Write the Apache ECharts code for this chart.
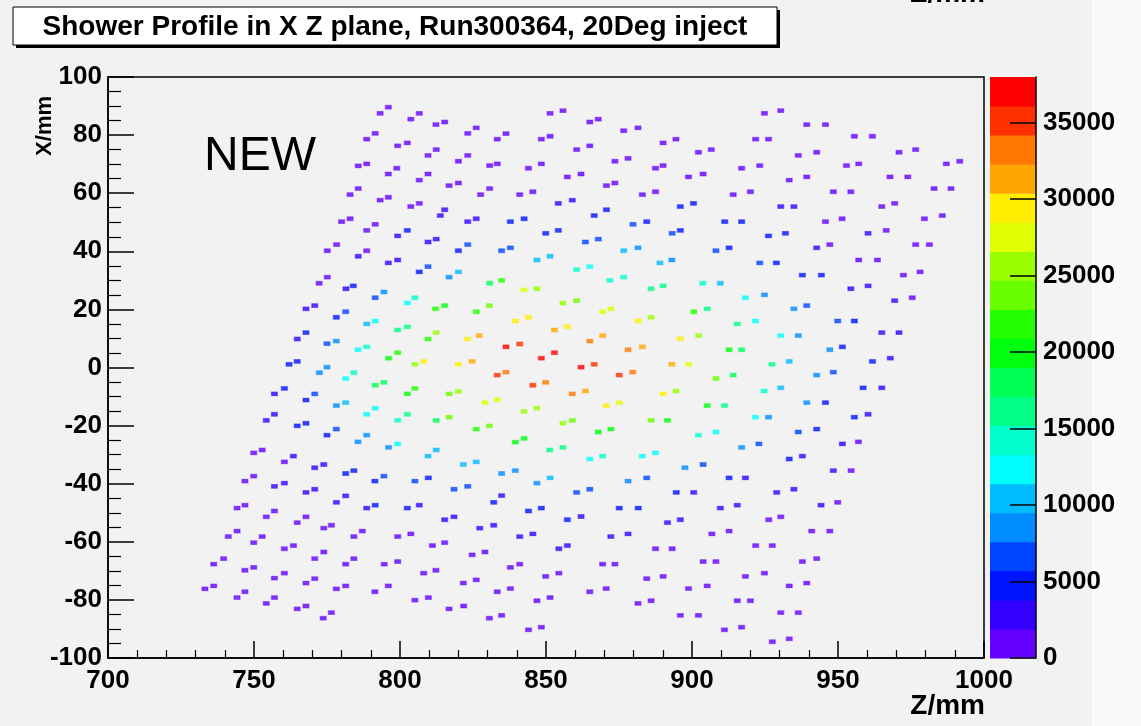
<!DOCTYPE html>
<html>
<head>
<meta charset="utf-8">
<script src="https://cdn.jsdelivr.net/npm/echarts@6/dist/echarts.min.js"></script>
<style>
  html, body { margin: 0; padding: 0; background: #ffffff; }
  #chart { width: 1141px; height: 726px; }
</style>
</head>
<body>
<div id="chart"></div>
<script>
// ---- chart text ----
const titleText = 'Shower Profile in X Z plane, Run300364, 20Deg inject';
const noteText = 'NEW';
const zAxisTitle = 'Z/mm';
const xAxisTitle = 'X/mm';

// ---- axis ranges ----
const zRange = [700, 1000];
const zStep = 50;
const xRange = [-100, 100];
const xStep = 20;

// ---- colour scale: 20 contour levels from 0 to the histogram maximum ----
const paletteMax = 37970;
const paletteStep = 5000;
const levelColors = [
  '#6300ff', '#3300ff', '#0014ff', '#0044ff', '#008bff',
  '#00bbff', '#00fffc', '#00ffcc', '#00ff85', '#00ff55',
  '#00ff0e', '#22ff00', '#69ff00', '#99ff00', '#e0ff00',
  '#ffee00', '#ffa700', '#ff7700', '#ff3000', '#ff0000'
];

// ---- filled bins: [Z (mm), X (mm), content] ----
const cellsTopLeft = [
  [796.0,89.6,1000],[793.2,87.5,1000],[791.5,80.6,1000],[788.6,78.6,1000],[788.6,70.1,1000],[785.7,69.4,1000],
  [796.0,66.6,1000],[798.9,68.6,1000],[785.7,61.6,1000],[782.9,59.5,1000],[796.0,58.6,1000],[793.2,57.6,1000],
  [782.9,51.2,1000],[780.0,50.2,1000],[791.5,49.3,1000],[788.6,47.2,1000],[778.3,42.3,1000],[775.1,40.2,1000],
  [788.6,40.2,1000],[785.7,38.3,2900],[775.1,31.1,1000],[772.3,29.0,1000],[784.0,28.1,4700],[781.5,27.1,2900]
];
const cellsTopMiddle = [
  [803.7,85.5,1000],[806.6,87.5,1000],[812.3,83.6,1000],[815.3,84.5,1000],[823.2,80.6,1000],[826.1,82.5,1000],
  [833.3,78.6,1000],[836.3,80.5,1000],[848.4,78.6,1000],[851.4,79.6,1000],[851.4,87.5,1000],[855.8,88.4,1000],
  [865.0,84.5,1000],[867.9,85.5,1000],[876.6,81.5,1000],[881.5,82.5,1000],[890.1,77.3,1000],[894.5,78.6,1000],
  [860.5,75.0,1000],[865.0,76.3,1000],[799.2,76.3,1000],[802.5,77.3,1000],[809.6,73.0,1000],[812.4,75.0,1000],
  [820.0,71.0,1000],[823.2,73.0,1000],[830.7,69.5,1000],[833.3,70.1,1000],[844.0,68.6,1000],[848.4,70.1,1000],
  [857.3,65.6,1000],[862.0,66.6,1000],[873.6,71.0,1000],[878.1,72.0,1000],[887.5,68.6,1000],[890.1,69.5,1000],
  [806.6,64.5,1000],[809.6,66.6,1000],[816.8,62.6,1000],[820.0,63.5,1000],[827.6,59.5,1000],[830.7,61.6,1000],
  [841.0,59.5,1000],[845.5,60.5,1000],[854.2,56.5,2900],[859.0,57.6,2900],[870.7,62.6,1000],[873.6,63.5,1000],
  [883.0,59.5,1000],[887.5,60.5,1000],[803.7,55.4,1000],[806.6,56.5,1000],[813.8,52.3,2900],[815.3,54.3,2900],
  [823.2,50.2,2900],[826.1,51.2,2900],[837.8,50.2,4700],[842.5,51.2,4700],[849.9,46.2,4700],[854.2,47.2,4700],
  [866.5,52.3,4700],[870.7,54.3,4700],[879.8,49.3,6600],[884.5,50.2,4700],[799.2,45.3,2900],[802.5,47.2,4700],
  [809.6,43.2,2900],[812.4,44.2,2900],[820.0,40.2,4700],[823.2,42.3,6600],[834.8,40.2,6600],[837.8,41.2,6600],
  [846.9,37.0,10400],[851.4,38.3,10400],[863.5,43.2,6600],[867.9,44.2,6600],[876.6,40.2,10400],[881.5,41.2,8500],
  [889.0,36.0,10400],[893.1,37.0,8500],[893.2,46.2,6600],[796.0,36.0,2900],[799.2,37.0,2900],[806.6,32.9,4700],
  [809.6,34.7,6600],[816.8,31.1,8500],[820.0,32.9,10400],[830.7,29.0,18000],[834.8,30.0,21800],[842.4,26.7,27500],
  [846.9,27.1,25600],[860.5,33.7,14200],[865.0,34.7,12300],[871.9,30.0,14200],[876.6,31.1,14200],[886.0,27.1,16100],
  [890.1,28.1,16100]
];
const cellsTopRight = [
  [924.8,87.5,1000],[930.4,88.4,1000],[939.3,83.6,1000],[945.7,83.6,1000],[955.6,79.6,1000],[961.8,79.6,1000],
  [902.2,74.1,1000],[906.6,75.0,1000],[921.8,78.6,1000],[926.2,78.6,1000],[936.4,73.0,1000],[942.7,74.1,1000],
  [970.9,74.1,1000],[976.6,75.0,1000],[917.0,68.6,1000],[923.2,69.5,1000],[952.9,69.5,1000],[957.1,70.1,1000],
  [987.1,70.1,1000],[991.7,71.0,1000],[898.8,65.6,1000],[903.8,66.6,1000],[933.3,64.5,1000],[939.3,65.6,1000],
  [967.8,65.6,1000],[973.9,65.6,1000],[914.1,59.5,1000],[920.0,60.5,1000],[948.4,60.5,1000],[954.4,60.5,1000],
  [982.9,61.6,1000],[988.7,61.6,1000],[896.0,55.4,4700],[900.5,56.5,4700],[930.4,55.4,2900],[934.9,55.4,2900],
  [965.0,55.4,1000],[969.4,56.5,1000],[911.2,50.2,4700],[917.0,50.2,4700],[945.7,50.2,1000],[951.4,51.2,1000],
  [979.6,51.2,1000],[985.7,52.3,1000],[896.0,47.2,4700],[926.2,45.3,4700],[932.0,46.2,4700],[960.3,46.2,2900],
  [966.5,47.2,1000],[908.2,40.2,6600],[912.7,41.2,4700],[942.7,41.2,2900],[947.2,42.3,1000],[976.6,42.3,1000],
  [981.3,42.3,1000],[923.2,36.0,6600],[928.9,36.0,4700],[957.1,37.0,1000],[963.5,37.0,1000],[903.7,29.0,14200],
  [909.7,29.0,10400],[937.8,31.8,4700],[944.3,31.8,4000],[972.4,31.8,1000],[978.1,32.9,1000],[954.4,27.1,2900],
  [960.3,28.1,2900]
];
const cellsMiddleLeft = [
  [791.5,24.0,6600],[794.5,26.0,8500],[802.5,22.2,12300],[805.1,24.0,14200],[812.2,20.2,21800],[815.3,21.3,20000],
  [826.1,19.2,21800],[767.8,20.2,2900],[770.8,21.3,2900],[778.2,17.3,4700],[781.4,19.2,6600],[788.6,15.0,10400],
  [791.5,16.0,12300],[799.2,12.9,16100],[802.5,14.0,16100],[809.6,9.8,21800],[812.4,12.0,25600],[823.2,9.8,29400],
  [827.1,11.0,31300],[764.8,9.8,2900],[767.8,12.0,4700],[775.0,8.2,6600],[778.2,9.1,8500],[785.6,6.1,12300],
  [788.6,7.1,14200],[796.1,3.2,20000],[799.2,5.1,21800],[805.1,1.1,25600],[808.1,2.1,29400],[820.0,1.1,29400],
  [824.7,2.1,31300],[762.0,1.1,4700],[764.8,2.1,4700],[772.4,-1.8,8500],[775.0,0.1,8500],[781.4,-3.8,12300],
  [784.2,-1.8,14200],[791.5,-6.1,18000],[794.5,-5.1,18000],[802.5,-9.1,20000],[805.1,-7.2,21800],[816.8,-9.1,23700],
  [820.0,-8.2,25600],[757.0,-9.1,2900],[760.4,-7.2,4700],[767.8,-11.2,4700],[770.8,-9.1,6600],[778.2,-13.1,8500],
  [781.4,-12.1,10400],[788.6,-16.1,12300],[791.5,-14.0,12300],[799.2,-18.2,14200],[802.5,-16.1,16100],[812.4,-18.2,18000],
  [816.8,-17.1,23700],[826.1,-21.2,21800],[754.2,-18.2,2900],[757.0,-16.1,2900],[764.8,-20.1,4700],[767.8,-19.2,4700],
  [775.0,-23.3,4700],[778.2,-21.2,6600],[785.6,-25.6,8500],[788.6,-23.3,8500],[796.1,-27.5,8500],[799.2,-26.3,12300],
  [809.6,-30.5,10400],[812.4,-28.4,10400],[821.7,-33.4,10400],[826.1,-32.5,10400],[749.9,-29.4,1000],[752.8,-28.4,1000],
  [760.4,-32.5,1000],[763.5,-30.5,2900],[770.8,-34.5,2900],[773.9,-33.4,2900]
];
const cellsCore = [
  [855.8,22.2,25600],[860.5,23.0,23700],[918.3,24.0,12300],[830.6,21.3,23700],[869.4,19.2,27500],[872.2,20.2,27500],
  [900.6,19.2,21800],[905.2,20.2,16100],[839.5,16.0,29400],[844.0,17.3,29400],[881.6,16.0,29400],[886.0,17.3,25600],
  [915.5,15.0,16100],[921.7,16.0,12300],[852.9,12.9,31300],[857.3,14.0,29400],[865.0,9.1,33200],[869.4,11.0,31300],
  [896.0,9.9,29400],[902.3,11.0,25600],[836.3,7.1,37000],[841.0,8.1,35100],[848.4,3.2,37000],[852.9,5.1,37000],
  [878.1,6.1,33200],[883.0,7.1,31300],[912.7,6.1,20000],[917.0,6.1,18000],[833.3,-2.6,35100],[836.3,-1.6,33200],
  [862.0,0.1,37000],[866.5,1.1,35100],[875.1,-2.6,35100],[879.7,-1.6,33200],[893.1,1.1,31300],[898.9,1.1,27500],
  [908.2,-3.8,23700],[914.1,-2.6,18000],[845.5,-6.1,35100],[849.9,-5.1,33200],[859.0,-9.1,33200],[863.5,-8.1,31300],
  [890.1,-9.1,29400],[894.5,-8.1,25600],[921.7,-17.1,12300],[829.1,-12.1,27500],[833.3,-11.1,27500],[870.6,-13.1,29400],
  [875.1,-12.1,27500],[905.2,-13.1,20000],[911.1,-13.1,16100],[842.5,-15.1,25600],[846.9,-14.0,25600],[855.8,-19.2,25600],
  [859.0,-18.2,23700],[886.0,-18.2,23700],[891.6,-18.2,20000],[902.2,-23.3,14200],[908.2,-22.2,12300],[830.6,-20.1,23700],
  [839.5,-25.7,20000],[842.5,-24.4,20000],[867.9,-22.2,20000],[872.2,-21.2,20000],[851.3,-28.4,16100],[855.8,-27.5,16100],
  [865.0,-31.5,12300],[869.4,-30.5,14200],[883.0,-30.5,12300],[887.5,-29.4,12300],[917.0,-27.5,8500],[922.9,-26.3,6600],
  [897.6,-34.5,8500],[903.8,-33.4,6600]
];
const cellsMiddleRight = [
  [924.8,25.0,8500],[934.9,20.2,8500],[939.3,21.3,6600],[969.4,23.0,2900],[975.4,24.0,1000],[930.4,11.0,12300],
  [936.4,11.0,8500],[949.9,16.0,6600],[955.6,16.0,4700],[965.0,12.0,2900],[970.9,12.0,2900],[927.4,1.1,16100],
  [933.3,2.1,10400],[947.2,6.1,8500],[951.5,7.1,4700],[961.8,2.1,4700],[967.9,3.2,2900],[942.7,-2.6,8500],
  [948.4,-1.6,6600],[924.7,-8.1,14200],[930.4,-7.0,10400],[958.6,-7.0,4700],[965.0,-7.0,2900],[939.3,-12.1,8500],
  [945.7,-12.1,4700],[926.2,-17.1,8500],[955.6,-17.1,4700],[960.3,-16.1,2900],[936.4,-22.2,6600],[942.7,-21.2,4700],
  [951.5,-26.3,2900],[957.0,-25.6,1000],[933.3,-31.5,4700],[937.8,-30.5,2900],[948.4,-35.5,2900],[954.5,-35.5,1000]
];
const cellsBottomLeft = [
  [781.4,-36.5,4700],[784.2,-35.5,4700],[791.4,-39.1,4700],[794.5,-37.4,6600],[805.1,-39.1,6600],[809.7,-38.0,4700],
  [818.5,-41.9,6600],[823.2,-40.9,6600],[746.9,-39.1,1000],[749.9,-37.4,1000],[757.0,-40.9,2900],[760.4,-39.8,2900],
  [767.8,-43.0,2900],[770.8,-41.9,2900],[778.2,-46.4,2900],[781.4,-44.2,2900],[788.6,-48.4,2900],[791.5,-47.4,4700],
  [802.5,-48.4,4700],[806.6,-47.4,2900],[744.2,-48.4,1000],[746.9,-47.4,1000],[754.2,-51.4,1000],[757.0,-49.4,1000],
  [764.8,-53.4,1000],[767.8,-51.4,1000],[773.9,-55.3,1000],[776.5,-54.3,1000],[784.2,-58.2,1000],[787.1,-56.3,1000],
  [799.2,-58.2,1000],[803.7,-57.3,1000],[815.3,-52.4,2900],[818.5,-51.4,2900],[827.3,-55.3,2900],[741.2,-58.2,1000],
  [744.2,-56.3,1000],[749.9,-60.3,1000],[752.8,-58.2,1000],[760.4,-62.4,1000],[763.5,-61.3,1000],[770.8,-65.8,1000],
  [773.9,-63.5,1000],[781.4,-67.7,1000],[784.2,-65.8,1000],[794.6,-67.7,1000],[799.2,-66.8,1000],[808.1,-70.8,1000],
  [812.3,-69.8,1000],[811.1,-61.3,1000],[815.3,-60.3,1000],[824.7,-64.5,1000],[736.2,-67.7,1000],[739.6,-65.8,1000],
  [746.9,-69.8,1000],[749.9,-68.8,1000],[757.0,-72.5,1000],[760.4,-70.8,1000],[767.8,-74.2,1000],[770.8,-72.7,1000],
  [778.2,-76.2,1000],[781.4,-75.2,1000],[791.4,-77.2,1000],[796.0,-75.2,1000],[805.1,-80.1,1000],[809.7,-79.2,1000],
  [821.7,-74.2,1000],[826.1,-73.1,1000],[816.8,-83.1,1000],[821.8,-82.1,1000],[733.2,-76.2,1000],[736.2,-75.2,1000],
  [744.2,-79.2,1000],[746.9,-77.2,1000],[754.2,-81.2,1000],[757.0,-79.2,1000],[764.8,-83.1,1000],[767.8,-82.1,1000],
  [773.7,-86.3,1000],[776.5,-84.4,1000]
];
const cellsBottomMiddle = [
  [834.8,-36.5,8500],[839.5,-35.5,8500],[846.9,-39.8,8500],[851.4,-38.0,10400],[878.1,-39.1,8500],[884.5,-38.0,6600],
  [832.1,-46.4,4700],[834.8,-44.1,2900],[844.0,-49.4,4700],[848.4,-48.4,4700],[860.5,-43.0,6600],[865.0,-41.9,6600],
  [875.1,-48.4,4700],[881.6,-48.4,4700],[894.6,-43.0,4700],[900.6,-43.0,2900],[912.7,-38.0,4700],[918.3,-38.0,2900],
  [832.1,-54.3,2900],[841.0,-58.2,2900],[845.5,-57.3,2900],[857.3,-52.4,4700],[862.0,-51.3,2900],[872.2,-58.2,2900],
  [878.1,-57.3,2900],[891.6,-53.4,2900],[896.0,-52.4,2900],[909.7,-48.4,2900],[915.5,-47.4,2900],[829.1,-63.5,1000],
  [837.8,-68.8,1000],[841.0,-67.7,1000],[854.4,-62.4,2900],[857.3,-61.3,2900],[869.4,-67.7,1000],[873.6,-67.7,1000],
  [887.5,-62.4,1000],[893.2,-62.4,1000],[906.8,-57.3,1000],[912.7,-56.3,1000],[921.8,-61.3,1000],[833.3,-77.2,1000],
  [837.8,-76.1,1000],[849.9,-71.9,1000],[854.4,-70.8,1000],[865.0,-77.2,1000],[870.6,-76.1,1000],[884.5,-72.7,1000],
  [890.1,-71.9,1000],[903.8,-66.8,1000],[908.2,-66.8,1000],[918.3,-71.9,1000],[830.6,-86.3,1000],[834.8,-85.3,1000],
  [846.9,-80.3,1000],[851.4,-79.2,1000],[881.5,-81.2,1000],[886.0,-80.3,1000],[898.8,-76.1,1000],[905.2,-75.2,1000],
  [915.5,-80.3,1000],[920.0,-80.3,1000],[844.0,-90.3,1000],[848.4,-89.4,1000],[896.0,-85.3,1000],[902.2,-85.3,1000],
  [911.1,-90.3,1000],[917.0,-89.4,1000]
];
const cellsBottomRight = [
  [929.0,-43.0,2900],[934.9,-41.9,2900],[944.2,-47.4,2900],[949.9,-46.4,1000],[926.3,-52.4,1000],[930.4,-51.4,1000],
  [941.0,-56.3,1000],[947.2,-56.3,1000],[927.5,-61.3,1000],[937.8,-66.8,1000],[942.7,-65.8,1000],[924.8,-70.8,1000],
  [933.3,-75.2,1000],[939.3,-74.2,1000],[930.4,-84.4,1000],[936.4,-84.4,1000],[927.5,-94.4,1000],[933.3,-93.4,1000]
];

const cells = [].concat(cellsTopLeft, cellsTopMiddle, cellsTopRight, cellsMiddleLeft,
  cellsCore, cellsMiddleRight, cellsBottomLeft, cellsBottomMiddle, cellsBottomRight);

// ---- helpers ----
const levelWidth = paletteMax / levelColors.length;
function levelOf(v) {
  return Math.max(0, Math.min(levelColors.length - 1, Math.floor(v / levelWidth)));
}
function withAlpha(hex, a) {
  const n = parseInt(hex.slice(1), 16);
  return 'rgba(' + (n >> 16) + ',' + ((n >> 8) & 255) + ',' + (n & 255) + ',' + a + ')';
}

const FONT = 'Liberation Sans, Arial, Helvetica, sans-serif';
const labelStyle = { color: '#000', fontFamily: FONT, fontWeight: 'bold', fontSize: 26 };

const cellData = cells.map(c => {
  const col = levelColors[levelOf(c[2])];
  return { value: c, itemStyle: { color: col, borderColor: withAlpha(col, 0.5), borderWidth: 1 } };
});
const bandData = levelColors.map((c, i) => [i * levelWidth, (i + 1) * levelWidth, i]);

const PLOT = { left: 108, top: 77, width: 876, height: 581 };
const BAR = { left: 990, top: 77, width: 46, height: 581 };

const chart = echarts.init(document.getElementById('chart'), null, { renderer: 'canvas' });
chart.setOption({
  animation: false,
  backgroundColor: '#ffffff',
  grid: [
    { left: PLOT.left, top: PLOT.top, width: PLOT.width, height: PLOT.height, show: true,
      borderColor: '#000', borderWidth: 1.5, backgroundColor: 'transparent', outerBoundsMode: 'none' },
    { left: BAR.left, top: BAR.top, width: BAR.width, height: BAR.height, show: false, outerBoundsMode: 'none' }
  ],
  xAxis: [
    { gridIndex: 0, type: 'value', min: zRange[0], max: zRange[1], interval: zStep,
      axisLine: { show: true, onZero: false, lineStyle: { color: '#000', width: 1.5 } },
      axisTick: { show: true, inside: true, length: 17, lineStyle: { color: '#000', width: 1.5 } },
      minorTick: { show: true, splitNumber: 5, length: 8, lineStyle: { color: '#000', width: 1.2 } },
      axisLabel: Object.assign({ margin: 10, formatter: v => String(v) }, labelStyle),
      splitLine: { show: false } },
    { gridIndex: 1, type: 'value', min: 0, max: 1, show: false }
  ],
  yAxis: [
    { gridIndex: 0, type: 'value', min: xRange[0], max: xRange[1], interval: xStep,
      axisLine: { show: true, onZero: false, lineStyle: { color: '#000', width: 1.5 } },
      axisTick: { show: true, inside: true, length: 26, lineStyle: { color: '#000', width: 1.5 } },
      minorTick: { show: true, splitNumber: 4, length: 13, lineStyle: { color: '#000', width: 1.2 } },
      axisLabel: Object.assign({ margin: 6, formatter: v => String(v) }, labelStyle),
      splitLine: { show: false } },
    { gridIndex: 1, type: 'value', min: 0, max: paletteMax, interval: paletteStep, position: 'right', z: 10,
      axisLine: { show: true, onZero: false, lineStyle: { color: '#000', width: 1.5 } },
      axisTick: { show: true, inside: true, length: 26, lineStyle: { color: '#000', width: 1.5 } },
      axisLabel: Object.assign({ margin: 7, showMaxLabel: false,
        formatter: v => (v % paletteStep === 0 ? String(v) : '') }, labelStyle),
      splitLine: { show: false } }
  ],
  series: [
    { type: 'custom', xAxisIndex: 1, yAxisIndex: 1, data: bandData, silent: true, z: 1,
      renderItem: (params, api) => {
        const top = api.coord([0, api.value(1)]);
        const bottom = api.coord([1, api.value(0)]);
        return { type: 'rect',
          shape: { x: top[0], y: top[1], width: bottom[0] - top[0], height: bottom[1] - top[1] + 0.5 },
          style: { fill: levelColors[api.value(2)] } };
      } },
    { type: 'scatter', xAxisIndex: 0, yAxisIndex: 0, data: cellData, symbol: 'rect',
      symbolSize: [6, 4], silent: true, z: 3 }
  ],
  graphic: [
    // canvas background of the drawing, with the lighter strip beyond its right edge
    { type: 'rect', z: -10, shape: { x: 0, y: 0, width: 1092, height: 726 }, style: { fill: '#f2f2f2' } },
    { type: 'rect', z: -10, shape: { x: 1092, y: 0, width: 49, height: 726 }, style: { fill: '#fafafa' } },
    // title box with drop shadow
    { type: 'rect', z: 5, shape: { x: 16, y: 10, width: 764, height: 38 }, style: { fill: '#000' } },
    { type: 'rect', z: 6, shape: { x: 13, y: 7, width: 764, height: 38 }, style: { fill: '#fff', stroke: '#000', lineWidth: 1 } },
    { type: 'text', z: 7, x: 395, y: 27, style: { text: titleText, fill: '#000', font: 'bold 28px ' + FONT,
      textAlign: 'center', textVerticalAlign: 'middle' } },
    // annotation inside the frame
    { type: 'text', z: 7, x: 204, y: 157, style: { text: noteText, fill: '#000', font: '48px ' + FONT,
      textAlign: 'left', textVerticalAlign: 'middle' } },
    // axis titles
    { type: 'text', z: 7, x: 985, y: 706, style: { text: zAxisTitle, fill: '#000', font: 'bold 28px ' + FONT,
      textAlign: 'right', textVerticalAlign: 'middle' } },
    { type: 'text', z: 7, x: 45, y: 96, rotation: Math.PI / 2, style: { text: xAxisTitle, fill: '#000',
      font: 'bold 22px ' + FONT, textAlign: 'right', textVerticalAlign: 'middle' } },
    // axis title of the panel above, cut by the top edge
    { type: 'text', z: 7, x: 985, y: -6, style: { text: zAxisTitle, fill: '#000', font: 'bold 28px ' + FONT,
      textAlign: 'right', textVerticalAlign: 'middle' } }
  ]
});
</script>
</body>
</html>
